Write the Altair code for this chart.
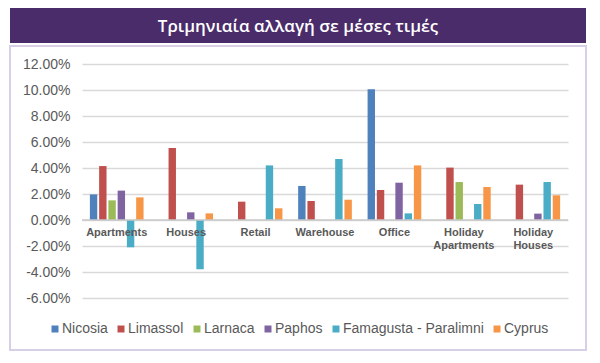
import altair as alt
import pandas as pd

title_text = "Τριμηνιαία αλλαγή σε μέσες τιμές"
categories = ["Apartments", "Houses", "Retail", "Warehouse", "Office",
              "Holiday Apartments", "Holiday Houses"]
category_labels = ["Apartments", "Houses", "Retail", "Warehouse", "Office",
                   "Holiday\nApartments", "Holiday\nHouses"]
cities = ["Nicosia", "Limassol", "Larnaca", "Paphos", "Famagusta - Paralimni", "Cyprus"]
colors = ["#4f81bd", "#c0504d", "#9bbb59", "#8064a2", "#4bacc6", "#f79646"]

nicosia = [1.97, None, None, 2.62, 10.05, None, None]
limassol = [4.15, 5.54, 1.41, 1.46, 2.31, 4.03, 2.72]
larnaca = [1.51, None, None, None, None, 2.92, None]
paphos = [2.26, 0.59, None, None, 2.87, None, 0.49]
famagusta = [-2.10, -3.79, 4.20, 4.69, 0.51, 1.23, 2.92]
cyprus = [1.74, 0.51, 0.90, 1.56, 4.20, 2.54, 1.90]

y_ticks = [-6, -4, -2, 0, 2, 4, 6, 8, 10, 12]

series = [nicosia, limassol, larnaca, paphos, famagusta, cyprus]
rows = []
for city, vals in zip(cities, series):
    for cat, v in zip(categories, vals):
        if v is not None:
            rows.append({"category": cat, "city": city, "value": v})
df = pd.DataFrame(rows)
labels_df = pd.DataFrame({"category": categories, "label": category_labels})
title_df = pd.DataFrame({"t": [title_text]})

FONT = "Liberation Sans"
GRAY = "#595959"

x_enc = alt.X("category:N", sort=categories,
              scale=alt.Scale(paddingInner=0.2, paddingOuter=0.1), axis=None)
y_scale = alt.Scale(domain=[-6, 12], nice=False, zero=False)
y_axis = alt.Axis(values=y_ticks, grid=True, labelOverlap=False,
                  labelExpr="(datum.value < 0 ? '-' : '') + format(abs(datum.value), '.2f') + '%'",
                  domain=False, ticks=False, labelPadding=12, labelFontSize=14,
                  labelFont=FONT, labelColor=GRAY, gridColor="#d9d9d9",
                  gridWidth=1.3, title=None)

frame = alt.Chart(title_df).mark_rect(fillOpacity=0, stroke="#d6cfe6", strokeWidth=2).encode(
    x=alt.value(-72), x2=alt.value(504), y=alt.value(-18), y2=alt.value(286)
)
band = alt.Chart(title_df).mark_rect(color="#4b2c6b").encode(
    x=alt.value(-72), x2=alt.value(504), y=alt.value(-56), y2=alt.value(-21)
)
title = alt.Chart(title_df).mark_text(
    font="Open Sans", fontSize=17, fontWeight=600, color="white",
    align="center", baseline="alphabetic"
).encode(text="t:N", x=alt.value(216), y=alt.value(-32))

bars = alt.Chart(df).mark_bar().encode(
    x=x_enc,
    xOffset=alt.XOffset("city:N", sort=cities,
                        scale=alt.Scale(domain=cities, paddingInner=0.2, paddingOuter=0.1)),
    y=alt.Y("value:Q", scale=y_scale, axis=y_axis),
    color=alt.Color("city:N", sort=cities,
                    scale=alt.Scale(domain=cities, range=colors),
                    legend=alt.Legend(orient="none", legendX=-34, legendY=258,
                                      direction="horizontal", columns=6, title=None,
                                      symbolType="square", symbolSize=49,
                                      symbolStrokeWidth=0, labelFontSize=14,
                                      labelFont=FONT, labelColor=GRAY,
                                      columnPadding=6, labelOffset=0, padding=0)),
)

zero = alt.Chart(title_df).mark_rule(color="#c8c8c8", strokeWidth=1.3).encode(
    y=alt.datum(0, scale=y_scale, axis=y_axis)
)

labels = alt.Chart(labels_df).mark_text(
    font=FONT, fontSize=11, fontWeight="bold", color=GRAY,
    baseline="top", dy=7, lineBreak="\n", lineHeight=12.5
).encode(x=x_enc, y=alt.datum(0, scale=y_scale, axis=y_axis), text="label:N")

chart = alt.layer(frame, band, title, bars, zero, labels).properties(
    width=486, height=234,
    autosize=alt.AutoSizeParams(type="none"),
    padding={"left": 74, "top": 56, "right": 20, "bottom": 56},
    background="white",
).configure_view(stroke=None)

chart.save("out.html", embed_options={"renderer": "svg", "actions": False})
